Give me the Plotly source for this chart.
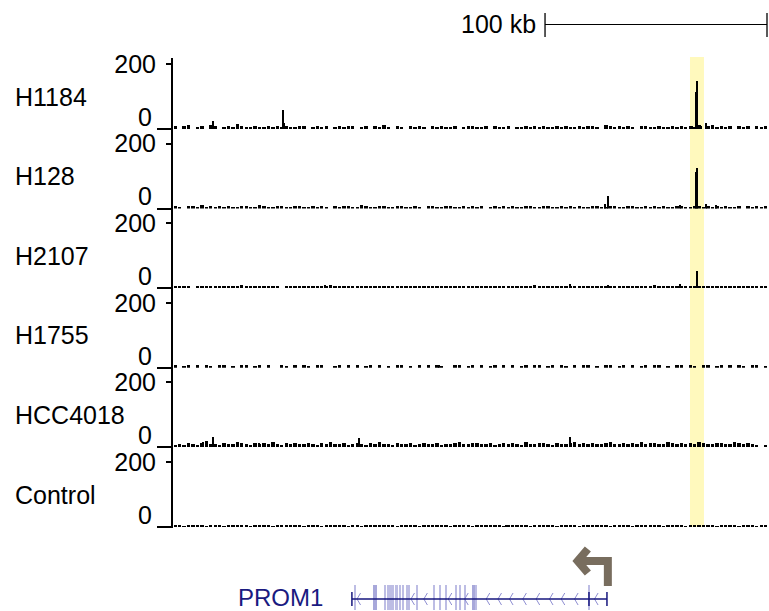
import plotly.graph_objects as go

# ---------------------------------------------------------------- data
W, H = 769, 611
X_MAX_KB = 268.5          # genomic window shown, in kb
BIN_KB = 2.0              # background signal bin size
Y_MAX = 200

TRACKS = ["H1184", "H128", "H2107", "H1755", "HCC4018", "Control"]

H1184_BG = [10, 0, 8, 11, 0, 6, 10, 0, 13, 8,
            0, 6, 10, 5, 14, 8, 6, 5, 8, 6,
            5, 8, 6, 10, 5, 8, 6, 5, 10, 8,
            0, 6, 8, 5, 10, 0, 6, 10, 5, 8,
            8, 0, 6, 10, 0, 8, 5, 11, 6, 0,
            8, 6, 0, 10, 5, 8, 6, 0, 8, 5,
            10, 6, 5, 8, 0, 6, 10, 8, 5, 6,
            8, 0, 10, 6, 5, 8, 0, 6, 5, 10,
            6, 8, 5, 10, 6, 5, 8, 6, 10, 5,
            6, 8, 5, 10, 8, 6, 0, 11, 8, 6,
            10, 5, 8, 6, 0, 10, 8, 5, 6, 8,
            5, 6, 8, 5, 10, 6, 8, 5, 13, 0,
            8, 11, 6, 10, 5, 8, 0, 8, 6, 10,
            0, 8, 6, 10]
H128_BG = [8, 6, 0, 10, 8, 5, 11, 6, 8, 5,
           10, 6, 8, 5, 6, 10, 8, 5, 6, 11,
           8, 5, 6, 10, 8, 6, 5, 8, 10, 6,
           5, 8, 6, 10, 5, 0, 8, 6, 10, 8,
           5, 6, 11, 8, 6, 5, 10, 8, 6, 5,
           8, 10, 6, 5, 8, 6, 0, 10, 8, 5,
           6, 8, 10, 5, 6, 8, 5, 10, 6, 8,
           0, 6, 8, 5, 10, 6, 8, 5, 6, 10,
           8, 5, 6, 8, 10, 5, 6, 8, 5, 10,
           6, 8, 5, 6, 10, 8, 5, 6, 8, 10,
           5, 6, 8, 10, 6, 5, 8, 6, 10, 5,
           8, 6, 5, 10, 8, 6, 5, 8, 10, 6,
           8, 5, 10, 6, 8, 5, 6, 10, 0, 8,
           6, 10, 5, 8]
H2107_BG = [4, 4, 5, 4, 0, 4, 5, 4, 4, 6,
            4, 5, 4, 4, 5, 8, 4, 4, 5, 4,
            4, 4, 6, 4, 0, 4, 5, 4, 4, 4,
            5, 4, 4, 6, 4, 8, 5, 4, 4, 5,
            4, 4, 5, 4, 4, 6, 4, 4, 5, 4,
            5, 4, 4, 5, 4, 6, 4, 4, 4, 5,
            4, 5, 4, 4, 6, 4, 5, 4, 4, 4,
            5, 4, 6, 4, 4, 5, 4, 4, 5, 4,
            6, 8, 4, 4, 5, 4, 4, 5, 6, 4,
            4, 5, 4, 4, 6, 4, 4, 5, 4, 4,
            5, 4, 4, 6, 4, 4, 5, 4, 8, 4,
            4, 5, 4, 4, 5, 4, 6, 4, 4, 5,
            4, 4, 5, 4, 6, 4, 4, 5, 4, 4,
            5, 4, 6, 4]
H1755_BG = [9, 0, 6, 10, 0, 8, 0, 9, 6, 0,
            10, 8, 0, 6, 0, 9, 8, 0, 6, 10,
            0, 8, 0, 0, 9, 6, 0, 8, 0, 10,
            6, 0, 8, 9, 0, 0, 6, 10, 0, 8,
            0, 9, 0, 6, 8, 0, 10, 0, 6, 0,
            9, 8, 0, 6, 0, 10, 0, 8, 0, 9,
            6, 0, 0, 8, 10, 0, 6, 9, 0, 8,
            0, 6, 10, 0, 8, 0, 9, 0, 6, 8,
            0, 10, 8, 0, 6, 9, 0, 8, 6, 0,
            10, 0, 8, 9, 0, 6, 0, 10, 8, 0,
            6, 9, 0, 8, 0, 6, 10, 0, 9, 8,
            0, 6, 0, 10, 8, 0, 9, 6, 0, 8,
            10, 0, 6, 9, 0, 8, 0, 10, 6, 0,
            9, 8, 0, 6]
HCC4018_BG = [7, 10, 6, 13, 8, 7, 11, 17, 8, 10,
              7, 13, 10, 8, 14, 11, 8, 7, 13, 10,
              11, 8, 14, 10, 7, 13, 8, 11, 10, 8,
              13, 10, 7, 11, 8, 14, 10, 8, 11, 7,
              10, 13, 8, 7, 11, 10, 14, 8, 10, 7,
              11, 8, 10, 13, 7, 8, 11, 10, 8, 13,
              7, 10, 8, 11, 14, 10, 8, 13, 11, 10,
              8, 11, 7, 10, 13, 8, 11, 10, 7, 14,
              10, 8, 11, 13, 10, 7, 11, 8, 10, 13,
              14, 10, 11, 8, 13, 10, 8, 11, 14, 10,
              8, 13, 10, 11, 8, 14, 10, 11, 13, 8,
              10, 14, 11, 8, 13, 10, 11, 8, 14, 13,
              10, 8, 13, 11, 10, 8, 14, 11, 10, 13,
              8, 7, 0, 6]
CONTROL_BG = [4, 4, 3, 4, 4, 5, 4, 3, 4, 4,
              4, 3, 4, 4, 5, 4, 4, 3, 4, 4,
              4, 4, 3, 4, 4, 4, 5, 4, 4, 3,
              4, 4, 4, 3, 4, 5, 4, 4, 4, 3,
              4, 4, 3, 4, 4, 4, 4, 5, 4, 4,
              3, 4, 4, 4, 4, 3, 4, 4, 5, 4,
              4, 4, 3, 4, 4, 4, 4, 3, 4, 4,
              5, 4, 4, 4, 3, 4, 4, 4, 4, 4,
              3, 4, 5, 4, 4, 4, 3, 4, 4, 4,
              4, 3, 4, 4, 4, 5, 4, 4, 3, 4,
              4, 4, 4, 3, 4, 4, 5, 4, 4, 4,
              3, 4, 4, 4, 4, 3, 4, 4, 4, 5,
              4, 4, 3, 4, 4, 4, 4, 3, 4, 4,
              4, 3, 4, 4]

# narrow peaks: position (kb) and height
H1184_PEAK_KB = [18.2, 49.6, 50.3, 233.8, 235.6, 236.1, 237.8, 240.2]
H1184_PEAK_VAL = [25, 58, 20, 10, 114, 148, 10, 18]
H128_PEAK_KB = [194.9, 195.9, 228.4, 235.6, 236.1, 240.3, 244.8]
H128_PEAK_VAL = [14, 40, 12, 114, 126, 15, 12]
H2107_PEAK_KB = [68.5, 178.8, 196.0, 228.7, 236.1]
H2107_PEAK_VAL = [8, 12, 10, 12, 52]
H1755_PEAK_KB = [120.0]
H1755_PEAK_VAL = [9]
HCC4018_PEAK_KB = [13.5, 18.0, 38.7, 83.8, 178.8]
HCC4018_PEAK_VAL = [15, 30, 12, 27, 30]
CONTROL_PEAK_KB = [150.0]
CONTROL_PEAK_VAL = [5]

BG = [H1184_BG, H128_BG, H2107_BG, H1755_BG, HCC4018_BG, CONTROL_BG]
PEAK_KB = [H1184_PEAK_KB, H128_PEAK_KB, H2107_PEAK_KB,
           H1755_PEAK_KB, HCC4018_PEAK_KB, CONTROL_PEAK_KB]
PEAK_VAL = [H1184_PEAK_VAL, H128_PEAK_VAL, H2107_PEAK_VAL,
            H1755_PEAK_VAL, HCC4018_PEAK_VAL, CONTROL_PEAK_VAL]

HIGHLIGHT_KB = (232.9, 239.2)
SCALE_START_KB = 167.6
SCALE_LEN_KB = 100
SCALE_LABEL = "100 kb"

GENE_NAME = "PROM1"
GENE_START_KB = 80.6
GENE_END_KB = 195.5          # TSS (minus strand)
UTR_TICK_KB = 187.4
EXON_KB = [82.3, 95.8, 97.0, 98.1, 99.2, 100.8, 102.3, 103.7, 105.5,
           106.6, 109.9, 117.6, 120.3, 123.3, 127.8, 129.6, 131.8, 136.5,
           187.4]
EXON_WIDE_KB = [91.0, 135.3]
CHEVRON_KB = [82.9, 107.2, 113.0, 124.0, 131.4, 141.1, 146.4, 151.6,
              157.6, 163.6, 169.6, 174.9, 180.9, 189.9]

# ---------------------------------------------------------------- layout helpers
FONT = "Liberation Sans, Arial, sans-serif"
PLOT_LEFT_PX = 173
TRACK0_ZERO_PX = 129
TRACK0_TOP_PX = 64
TRACK_STEP_PX = 79.6


def py(px):
    """pixel row -> paper fraction"""
    return 1 - px / H


fig = go.Figure()

# signal tracks
for n, name in enumerate(TRACKS):
    ax = "y" if n == 0 else f"y{n + 1}"
    centers = [BIN_KB * i + BIN_KB / 2 for i in range(len(BG[n]))]
    fig.add_trace(go.Bar(x=centers, y=BG[n], width=1.5, xaxis="x", yaxis=ax,
                         marker=dict(color="black", line=dict(width=0)),
                         showlegend=False, hoverinfo="skip"))
    fig.add_trace(go.Bar(x=PEAK_KB[n], y=PEAK_VAL[n], width=0.6, xaxis="x",
                         yaxis=ax, marker=dict(color="black", line=dict(width=0)),
                         showlegend=False, hoverinfo="skip"))
    # invisible trace so the overlaid zero-tick axis is rendered
    fig.add_trace(go.Scatter(x=[0], y=[0], mode="markers", opacity=0,
                             xaxis="x", yaxis=f"y{n + 8}", showlegend=False,
                             hoverinfo="skip"))

# gene model track (y7, units = pixels from bottom)
gene_ax = "y7"
fig.add_trace(go.Bar(x=EXON_KB, y=[25] * len(EXON_KB), base=1, width=0.7,
                     xaxis="x", yaxis=gene_ax,
                     marker=dict(color="#bdbde4", line=dict(width=0)),
                     showlegend=False, hoverinfo="skip"))
fig.add_trace(go.Bar(x=EXON_WIDE_KB, y=[25] * len(EXON_WIDE_KB), base=1,
                     width=1.4, xaxis="x", yaxis=gene_ax,
                     marker=dict(color="#a8a8da", line=dict(width=0)),
                     showlegend=False, hoverinfo="skip"))
chev_x, chev_y = [], []
for k in CHEVRON_KB:
    chev_x += [k + 1.6, k, k + 1.6, None]
    chev_y += [18, 12, 6, None]
fig.add_trace(go.Scatter(x=chev_x, y=chev_y, mode="lines", xaxis="x",
                         yaxis=gene_ax, line=dict(color="#8e8ed2", width=1),
                         showlegend=False, hoverinfo="skip"))
fig.add_trace(go.Scatter(x=[GENE_START_KB, GENE_END_KB], y=[12, 12],
                         mode="lines", xaxis="x", yaxis=gene_ax,
                         line=dict(color="#16167e", width=1.5),
                         showlegend=False, hoverinfo="skip"))
end_x, end_y = [], []
for k in [GENE_START_KB, UTR_TICK_KB, GENE_END_KB]:
    end_x += [k, k, None]
    end_y += [5, 19, None]
fig.add_trace(go.Scatter(x=end_x, y=end_y, mode="lines", xaxis="x",
                         yaxis=gene_ax, line=dict(color="#16167e", width=1.5),
                         showlegend=False, hoverinfo="skip"))

# axes
layout = dict(
    width=W, height=H, margin=dict(l=0, r=0, t=0, b=0, pad=0, autoexpand=False),
    paper_bgcolor="white", plot_bgcolor="rgba(0,0,0,0)",
    barmode="overlay", bargap=0, showlegend=False,
    font=dict(family=FONT, size=25, color="black"),
    xaxis=dict(domain=[PLOT_LEFT_PX / W, 1], range=[0, X_MAX_KB],
               visible=False, anchor="y", automargin=False),
)
for n in range(6):
    zero_px = TRACK0_ZERO_PX + TRACK_STEP_PX * n
    top_px = TRACK0_TOP_PX + TRACK_STEP_PX * n
    key = "yaxis" if n == 0 else f"yaxis{n + 1}"
    layout[key] = dict(domain=[py(zero_px), py(top_px)], range=[0, Y_MAX],
                       anchor="x", showgrid=False, zeroline=False,
                       showline=False, tickmode="array", tickvals=[Y_MAX],
                       ticks="outside", ticklen=6, tickwidth=2,
                       tickcolor="black", ticklabelstandoff=5,
                       automargin=False,
                       tickfont=dict(size=25, color="black"))
    layout[f"yaxis{n + 8}"] = dict(overlaying="y" if n == 0 else f"y{n + 1}",
                                   range=[0, Y_MAX], anchor="x", side="left",
                                   showgrid=False, zeroline=False,
                                   showline=False, tickmode="array",
                                   tickvals=[0], ticks="outside", ticklen=15,
                                   tickwidth=1.5, tickcolor="black",
                                   ticklabelshift=-12, automargin=False,
                                   tickfont=dict(size=25, color="black"))
layout["yaxis7"] = dict(domain=[0, py(540)], range=[0, 71], anchor="x",
                        visible=False, automargin=False)

# highlight band, axis spine, scale bar, TSS arrow
shapes = [
    dict(type="rect", xref="x", yref="paper", x0=HIGHLIGHT_KB[0],
         x1=HIGHLIGHT_KB[1], y0=py(527), y1=py(57), layer="below",
         fillcolor="rgb(255,249,189)", line=dict(width=0)),
    dict(type="line", xref="paper", yref="paper", x0=172 / W, x1=172 / W,
         y0=py(528), y1=py(58), line=dict(color="black", width=2)),
    dict(type="line", xref="x", yref="paper", x0=SCALE_START_KB,
         x1=SCALE_START_KB + SCALE_LEN_KB, y0=py(24.5), y1=py(24.5),
         line=dict(color="black", width=1)),
    dict(type="line", xref="x", yref="paper", x0=SCALE_START_KB,
         x1=SCALE_START_KB, y0=py(37), y1=py(13),
         line=dict(color="black", width=1.3)),
    dict(type="line", xref="x", yref="paper", x0=SCALE_START_KB + SCALE_LEN_KB,
         x1=SCALE_START_KB + SCALE_LEN_KB, y0=py(37), y1=py(13),
         line=dict(color="black", width=1.3)),
]
t = GENE_END_KB
arrow_path = (f"M {t - 8.6},{62} L {t - 13.2},{50} L {t - 8.6},{38} "
              f"M {t - 13.0},{50} L {t + 0.4},{50} L {t + 0.4},{25}")
shapes.append(dict(type="path", xref="x", yref="y7", path=arrow_path,
                   line=dict(color="#786d5e", width=8)))
layout["shapes"] = shapes

annotations = []
for n, name in enumerate(TRACKS):
    annotations.append(dict(text=name, xref="paper", x=13 / W, xanchor="left",
                            yref=("y" if n == 0 else f"y{n + 1}") + " domain",
                            y=0.5, yanchor="middle", showarrow=False,
                            font=dict(size=25, color="black")))
annotations.append(dict(text=SCALE_LABEL, xref="paper", x=538 / W,
                        xanchor="right", yref="paper", y=py(24),
                        yanchor="middle", showarrow=False,
                        font=dict(size=25, color="black")))
annotations.append(dict(text=GENE_NAME, xref="paper", x=236 / W,
                        xanchor="left", yref="y7", y=14, yanchor="middle",
                        showarrow=False, font=dict(size=24, color="#1a1a80")))
layout["annotations"] = annotations

fig.update_layout(**layout)
fig.write_html("out.html")
